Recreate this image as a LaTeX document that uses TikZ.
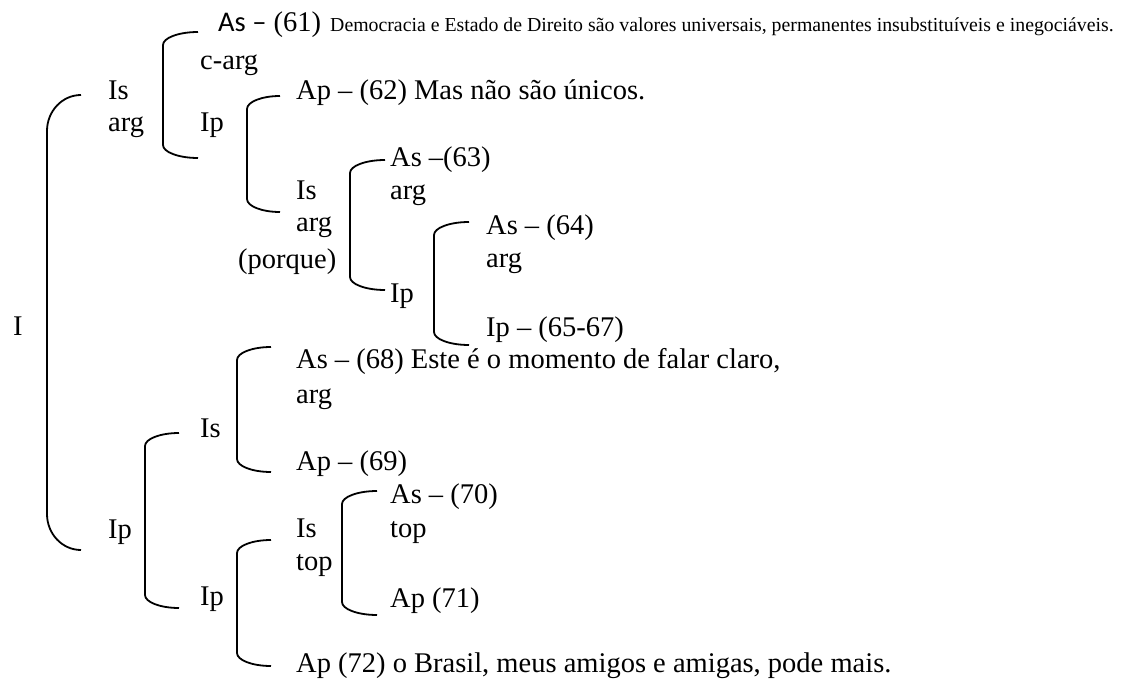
\documentclass[tikz,border=0pt]{standalone}
\usepackage{fontspec}
\setmainfont{Liberation Serif}
\newfontfamily\carlito{Carlito}
% #1 top end, #2 bottom end, #3 horizontal reach, #4 corner height
\newcommand\brkpath[4]{%
  \draw[brk] (#1) .. controls ([shift={(-0.552*#3,0)}]#1) and ([shift={(-#3,0.448*#4)}]#1) ..
    ([shift={(-#3,#4)}]#1) -- ([shift={(-#3,-#4)}]#2)
    .. controls ([shift={(-#3,-0.448*#4)}]#2) and ([shift={(-0.552*#3,0)}]#2) .. (#2);}
\begin{document}
\begin{tikzpicture}[x=1pt,y=-1pt,
  lbl/.style={anchor=base west,inner sep=0pt,font=\fontsize{28.5}{33}\selectfont},
  small/.style={anchor=base west,inner sep=0pt,font=\fontsize{19.8}{23}\selectfont},
  brk/.style={line width=1.8pt}]
\useasboundingbox (0,0) rectangle (1132,679);
% texts
\node[lbl] (tI) at (13,335) {I};
\node[lbl] (tIs1) at (108,100) {Is};
\node[lbl] (targ1) at (108,132) {arg};
\node[lbl] (tAs61) at (218,32) {{\carlito As –} (61)};
\node[small] (t61) at (330,32) {Democracia e Estado de Direito são valores universais, permanentes insubstituíveis e inegociáveis.};
\node[lbl] (tcarg) at (200,70) {c-arg};
\node[lbl] (tIp1) at (200,132) {Ip};
\node[lbl] (tAp62) at (296,100) {Ap – (62) Mas não são únicos.};
\node[lbl] (tIs2) at (296,200) {Is};
\node[lbl] (targ2) at (296,232) {arg};
\node[lbl] (tporque) at (238,268) {(porque)};
\node[lbl] (tAs63) at (390,167) {As –(63)};
\node[lbl] (targ3) at (390,200) {arg};
\node[lbl] (tIp2) at (390,302) {Ip};
\node[lbl] (tAs64) at (486,234) {As – (64)};
\node[lbl] (targ4) at (486,267) {arg};
\node[lbl] (tIp65) at (486,336) {Ip – (65-67)};
\node[lbl] (tAs68) at (296,368) {As – (68) Este é o momento de falar claro,};
\node[lbl] (targ5) at (296,403) {arg};
\node[lbl] (tAp69) at (296,470) {Ap – (69)};
\node[lbl] (tIs3) at (200,437) {Is};
\node[lbl] (tIp3) at (108,538) {Ip};
\node[lbl] (tIp4) at (200,605) {Ip};
\node[lbl] (tIs4) at (296,537) {Is};
\node[lbl] (ttop1) at (296,570) {top};
\node[lbl] (tAs70) at (390,503) {As – (70)};
\node[lbl] (ttop2) at (390,537) {top};
\node[lbl] (tAp71) at (390,607) {Ap (71)};
\node[lbl] (tAp72) at (296,672) {Ap (72) o Brasil, meus amigos e amigas, pode mais.};
% bracket end points
\coordinate (b1t) at (81,95);   \coordinate (b1b) at (81,550);
\coordinate (b2t) at (198,32);  \coordinate (b2b) at (198,158);
\coordinate (b3t) at (280,96);  \coordinate (b3b) at (280,212);
\coordinate (b4t) at (385,160); \coordinate (b4b) at (385,290);
\coordinate (b5t) at (469,222); \coordinate (b5b) at (469,345);
\coordinate (b6t) at (179,433); \coordinate (b6b) at (179,608);
\coordinate (b7t) at (271,347); \coordinate (b7b) at (271,472);
\coordinate (b8t) at (271,540); \coordinate (b8b) at (271,666);
\coordinate (b9t) at (377,491); \coordinate (b9b) at (377,615);
\brkpath{b1t}{b1b}{34}{36}
\brkpath{b2t}{b2b}{35}{13}
\brkpath{b3t}{b3b}{33}{13}
\brkpath{b4t}{b4b}{35}{13}
\brkpath{b5t}{b5b}{35}{13}
\brkpath{b6t}{b6b}{34}{13}
\brkpath{b7t}{b7b}{34}{13}
\brkpath{b8t}{b8b}{34}{13}
\brkpath{b9t}{b9b}{35}{13}
\end{tikzpicture}
\end{document}
